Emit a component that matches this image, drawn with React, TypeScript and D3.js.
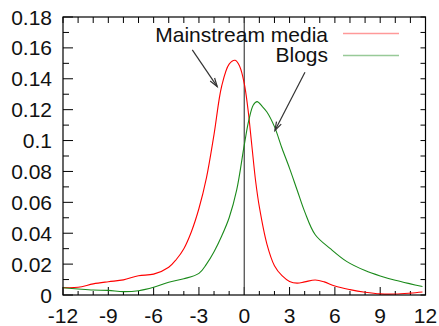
import React from "react";
import * as d3 from "d3";

const mediaX = [-12, -11, -10, -9, -8, -7, -6, -5, -4.5, -4, -3.5, -3, -2.5, -2, -1.5, -1, -0.6, -0.3, 0, 0.25, 0.5, 0.75, 1, 1.5, 2, 2.5, 3, 3.5, 4, 4.7, 5.3, 6, 7, 8, 9, 10, 11, 11.8];
const mediaY = [0.0048, 0.005, 0.0072, 0.0086, 0.0098, 0.0125, 0.0135, 0.018, 0.023, 0.03, 0.041, 0.056, 0.076, 0.104, 0.135, 0.1495, 0.152, 0.148, 0.137, 0.12, 0.097, 0.074, 0.057, 0.033, 0.019, 0.0125, 0.0088, 0.0077, 0.0085, 0.0097, 0.0085, 0.0058, 0.0035, 0.0018, 0.0007, 0.0006, 0.0012, 0.0019];

const blogsX = [-12, -11, -10, -9, -8, -7, -6, -5, -4, -3, -2.5, -2, -1.5, -1, -0.5, 0, 0.3, 0.6, 0.85, 1.2, 1.5, 2, 2.5, 3, 3.5, 4, 4.7, 5.7, 6.8, 8, 9, 10, 11, 11.8];
const blogsY = [0.0047, 0.0039, 0.0032, 0.003, 0.0022, 0.0028, 0.005, 0.0083, 0.0105, 0.014, 0.02, 0.028, 0.038, 0.05, 0.068, 0.097, 0.113, 0.123, 0.1252, 0.122, 0.1185, 0.109, 0.095, 0.082, 0.068, 0.054, 0.039, 0.03, 0.0216, 0.0158, 0.0123, 0.0095, 0.0072, 0.0055];

const xTickLabels = [-12, -9, -6, -3, 0, 3, 6, 9, 12];
const yTickLabels = [0, 0.02, 0.04, 0.06, 0.08, 0.1, 0.12, 0.14, 0.16, 0.18];
const seriesNames = ["Mainstream media", "Blogs"];
const seriesColors = ["#ff0000", "#1a8a1a"];

// annotation arrows in data coordinates: [x1, y1, x2, y2]
const arrowMedia = [-3.44, 0.1587, -1.79, 0.1349];
const arrowBlogs = [4.02, 0.1442, 2.03, 0.1065];

const W = 439, H = 326;
const M = { l: 63, t: 17, r: 13.5, b: 31 };

export default function App() {
  const x = d3.scaleLinear().domain([-12, 12]).range([M.l, W - M.r]);
  const y = d3.scaleLinear().domain([0, 0.18]).range([H - M.b, M.t]);
  const line = d3
    .line<[number, number]>()
    .x((d) => x(d[0]))
    .y((d) => y(d[1]))
    .curve(d3.curveCatmullRom.alpha(0.5));
  const media = mediaX.map((v, i) => [v, mediaY[i]] as [number, number]);
  const blogs = blogsX.map((v, i) => [v, blogsY[i]] as [number, number]);
  const minorX = d3.range(-12, 12.001, 1);
  const minorY = d3.range(0, 0.1801, 0.01);
  const font = "'Liberation Sans', Arial, sans-serif";
  const fs = 21;
  const x0 = M.l, x1 = W - M.r, y0 = H - M.b, y1 = M.t;

  const arrow = (a: number[], key: string) => {
    const ax1 = x(a[0]), ay1 = y(a[1]), ax2 = x(a[2]), ay2 = y(a[3]);
    const ang = Math.atan2(ay2 - ay1, ax2 - ax1);
    const len = 9, spread = 0.3;
    const p1 = [ax2 - len * Math.cos(ang - spread), ay2 - len * Math.sin(ang - spread)];
    const p2 = [ax2 - len * Math.cos(ang + spread), ay2 - len * Math.sin(ang + spread)];
    return (
      <g key={key} stroke="#333" strokeWidth={1.2} fill="none">
        <line x1={ax1} y1={ay1} x2={ax2} y2={ay2} />
        <path d={`M${p1[0]},${p1[1]}L${ax2},${ay2}L${p2[0]},${p2[1]}`} />
      </g>
    );
  };

  return (
    <svg width={W} height={H} style={{ position: "absolute", left: 0, top: 0, background: "#fff" }}>
      <rect x={0} y={0} width={W} height={H} fill="#fff" />
      <g stroke="#000" strokeWidth={1}>
        {minorX.map((v) => {
          const major = Math.round(v) % 3 === 0;
          return (
            <g key={"xt" + v}>
              <line x1={x(v)} x2={x(v)} y1={y0} y2={y0 - (major ? 8 : 4)} />
              <line x1={x(v)} x2={x(v)} y1={y1} y2={y1 + 6} />
            </g>
          );
        })}
        {minorY.map((v, i) => {
          const major = i % 2 === 0;
          return (
            <g key={"yt" + i}>
              <line x1={x0} x2={x0 + (major ? 10 : 6)} y1={y(v)} y2={y(v)} />
              <line x1={x1} x2={x1 - 5} y1={y(v)} y2={y(v)} />
            </g>
          );
        })}
      </g>
      <line x1={x(0)} x2={x(0)} y1={y0} y2={y1} stroke="#444" strokeWidth={1.2} />
      <path d={line(media) || ""} fill="none" stroke={seriesColors[0]} strokeWidth={1.1} />
      <path d={line(blogs) || ""} fill="none" stroke={seriesColors[1]} strokeWidth={1.1} />
      <rect x={x0} y={y1} width={x1 - x0} height={y0 - y1} fill="none" stroke="#000" strokeWidth={1.2} />
      <g fontFamily={font} fontSize={fs} fill="#111">
        {xTickLabels.map((v) => (
          <text key={"xl" + v} x={x(v)} y={y0 + 27.5} textAnchor="middle">
            {v}
          </text>
        ))}
        {yTickLabels.map((v) => (
          <text key={"yl" + v} x={52} y={y(v) + 7.5} textAnchor="end">
            {String(v)}
          </text>
        ))}
      </g>
      <g fontFamily={font} fontSize={fs} fill="#111">
        <text x={328} y={41.5} textAnchor="end">{seriesNames[0]}</text>
        <text x={328} y={61.5} textAnchor="end">{seriesNames[1]}</text>
      </g>
      <line x1={343} x2={399} y1={33.5} y2={33.5} stroke={seriesColors[0]} strokeOpacity={0.4} strokeWidth={1.5} />
      <line x1={343} x2={399} y1={55.5} y2={55.5} stroke={seriesColors[1]} strokeOpacity={0.45} strokeWidth={1.5} />
      {arrow(arrowMedia, "a1")}
      {arrow(arrowBlogs, "a2")}
    </svg>
  );
}
